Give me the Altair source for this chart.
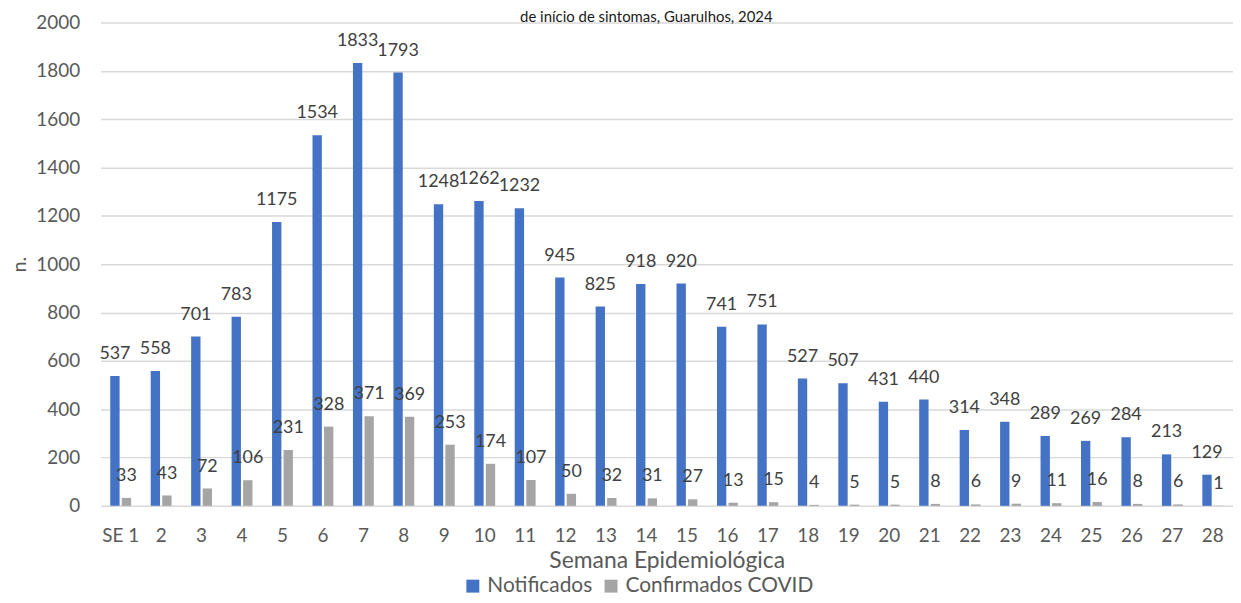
import altair as alt
import pandas as pd

semanas = ["SE 1"] + [str(i) for i in range(2, 29)]
notificados = [537, 558, 701, 783, 1175, 1534, 1833, 1793, 1248, 1262, 1232, 945, 825, 918,
               920, 741, 751, 527, 507, 431, 440, 314, 348, 289, 269, 284, 213, 129]
confirmados = [33, 43, 72, 106, 231, 328, 371, 369, 253, 174, 107, 50, 32, 31,
               27, 13, 15, 4, 5, 5, 8, 6, 9, 11, 16, 8, 6, 1]
series = ["Notificados", "Confirmados COVID"]
cores = ["#4472C4", "#A5A5A5"]
y_ticks = [0, 200, 400, 600, 800, 1000, 1200, 1400, 1600, 1800, 2000]
titulo = "de início de sintomas, Guarulhos, 2024"

rows = []
for s, n, c in zip(semanas, notificados, confirmados):
    rows.append({"semana": s, "serie": series[0], "valor": n})
    rows.append({"semana": s, "serie": series[1], "valor": c})
df = pd.DataFrame(rows)

FONT = "Lato"
AXC = "#595959"

x = alt.X(
    "semana:N", sort=semanas,
    scale=alt.Scale(paddingInner=0.484, paddingOuter=0.242),
    axis=alt.Axis(title="Semana Epidemiológica", labelAngle=0, ticks=False, domain=False,
                  labelFontSize=19, labelColor=AXC, labelFont=FONT, labelPadding=21,
                  titleFontSize=23, titleColor=AXC, titleFont=FONT, titleFontWeight="normal",
                  titlePadding=4),
)
y = alt.Y(
    "valor:Q", scale=alt.Scale(domain=[0, 2000], nice=False),
    axis=alt.Axis(title="n.", values=y_ticks, format="d", grid=True, gridColor="#D9D9D9",
                  gridWidth=1.5, domain=False, ticks=False, labelFontSize=19, labelColor=AXC,
                  labelFont=FONT, labelPadding=21, titleFontSize=20, titleColor=AXC,
                  titleFont=FONT, titleFontWeight="normal", titlePadding=6),
)
xoff = alt.XOffset("serie:N", sort=series, scale=alt.Scale(paddingInner=0.19, paddingOuter=0))
color = alt.Color(
    "serie:N", sort=series, scale=alt.Scale(domain=series, range=cores),
    legend=alt.Legend(title=None, orient="none", legendX=364, legendY=556, direction="horizontal",
                      symbolType="square", symbolSize=169, symbolStrokeWidth=0,
                      labelFontSize=21, labelFont=FONT, labelColor=AXC, labelLimit=0,
                      columnPadding=8, labelOffset=4),
)

base = alt.Chart(df).encode(x=x, xOffset=xoff)
bars = base.mark_bar().encode(y=y, color=color)
labels = base.mark_text(dy=-17, baseline="alphabetic", fontSize=18, font=FONT, color="#404040").encode(
    y=alt.Y("valor:Q"), text=alt.Text("valor:Q")
)
title_mark = alt.Chart(pd.DataFrame({"t": [titulo]})).mark_text(
    fontSize=15, font=FONT, color="#1a1a1a", baseline="alphabetic", align="center"
).encode(text="t:N", x=alt.value(549), y=alt.value(-1))

chart = alt.layer(bars, labels, title_mark).properties(
    width=1139, height=486,
    autosize=alt.AutoSizeParams(type="none"),
    padding={"left": 93, "top": 13, "right": 0, "bottom": 93},
).configure_view(stroke=None)

chart.save("out.html", embed_options={"renderer": "svg", "actions": False})
